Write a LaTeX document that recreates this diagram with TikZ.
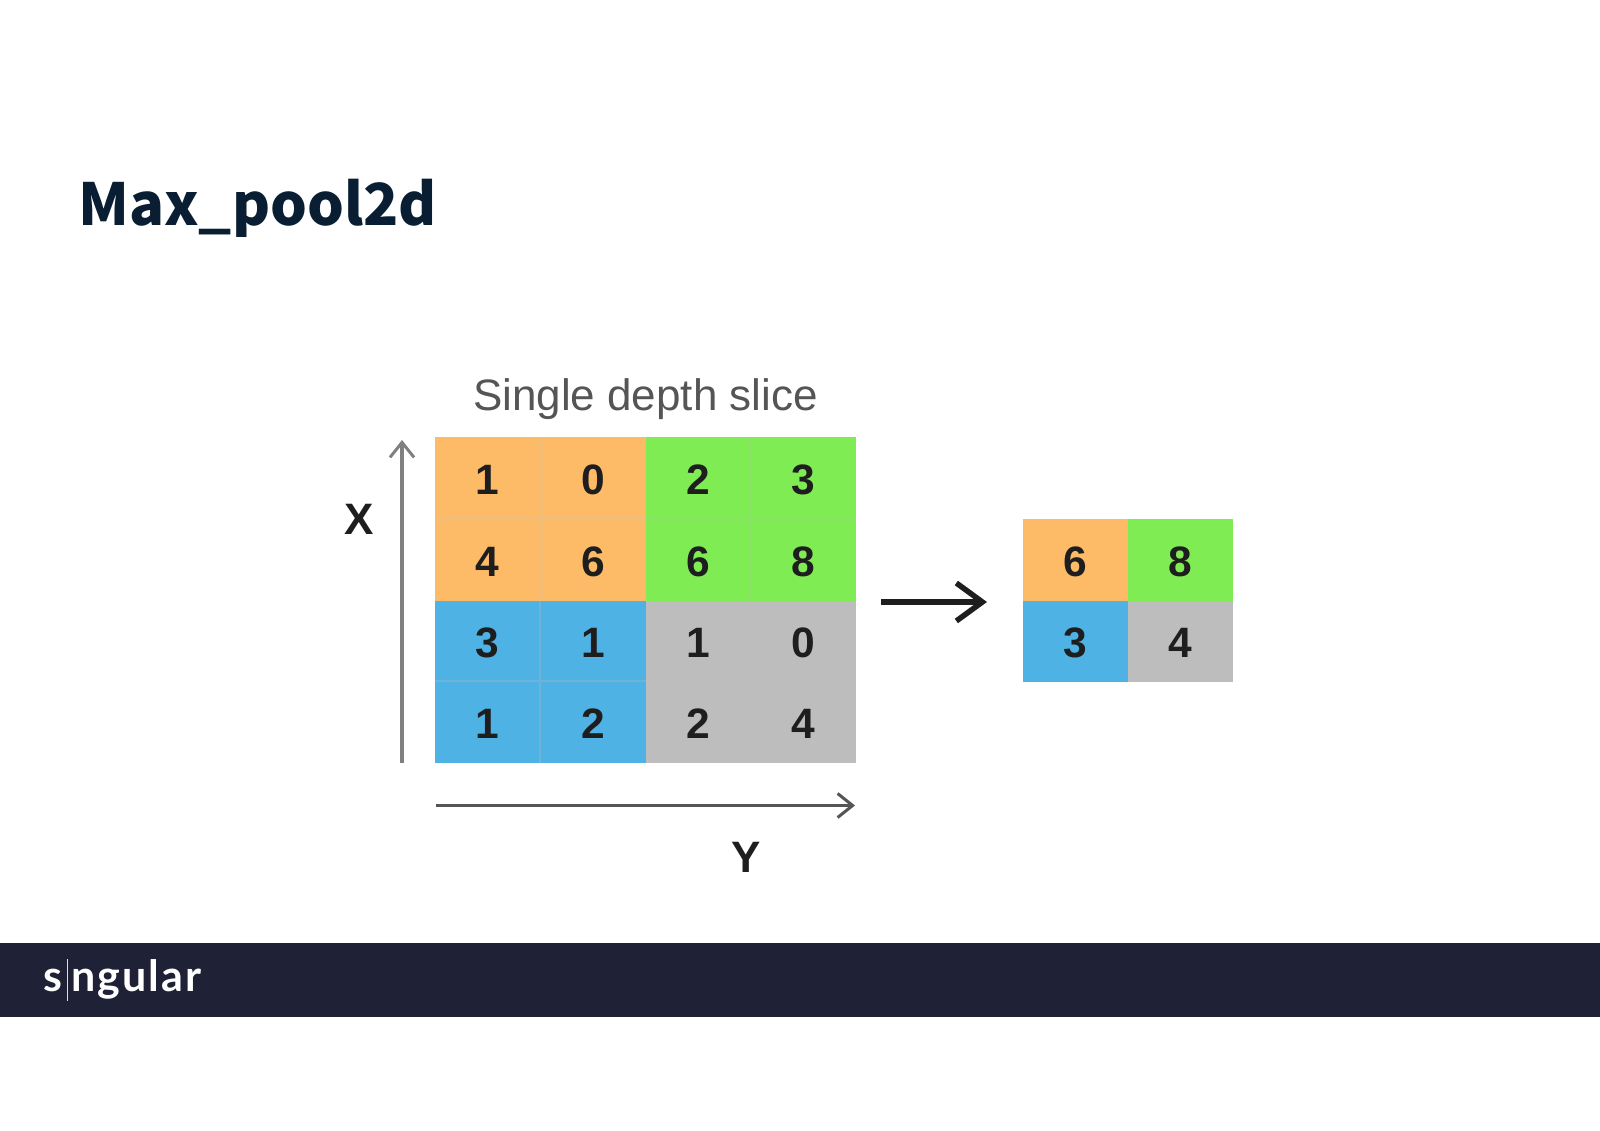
\documentclass[tikz,border=0pt]{standalone}
\usepackage{xcolor}
\usepackage{fontspec}
\usepackage{tikz}
\usetikzlibrary{calc,arrows.meta,positioning}
\setmainfont{Liberation Sans}
\newfontfamily\titlefont{Noto Sans CJK SC}
\newfontfamily\logofont{Lato}[LetterSpace=5]
\definecolor{poolOrange}{RGB}{253,187,103}
\definecolor{poolGreen}{RGB}{128,236,84}
\definecolor{poolBlue}{RGB}{79,178,228}
\definecolor{poolGray}{RGB}{189,189,189}
\definecolor{poolOrangeLine}{RGB}{235,190,130}
\definecolor{poolGreenLine}{RGB}{140,225,105}
\definecolor{poolBlueLine}{RGB}{110,180,215}
\definecolor{titleNavy}{RGB}{9,30,50}
\definecolor{bannerNavy}{RGB}{31,34,54}
\definecolor{sliceGray}{RGB}{85,85,85}
\definecolor{digitBlack}{RGB}{30,30,30}
\tikzset{
  cellbox/.style={inner sep=0pt,outer sep=0pt,minimum width=#1,text height=32pt,text depth=0pt,font=\fontsize{42.5}{42.5}\selectfont\bfseries,text=digitBlack},
  axislabel/.style={inner sep=0pt,font=\fontsize{44}{44}\selectfont\bfseries,text=digitBlack},
  logotext/.style={anchor=base west,inner sep=0pt,text=white,font=\logofont\fontsize{43}{43}\selectfont\bfseries},
}
\begin{document}
\begin{tikzpicture}[x=1pt,y=-1pt]
\useasboundingbox (0,0) rectangle (1600,1131);
% banner and title
\fill[bannerNavy] (0,943) rectangle (1600,1017);
\node[anchor=base west,inner sep=0pt,text=titleNavy,font=\titlefont\fontsize{58}{58}\selectfont\bfseries] (title) at (78,226) {Max\_pool2d};
\node[logotext] (logoS) at (43,991) {s};
\node[logotext] (logoRest) at (71,991) {ngular};
\draw[white!85!bannerNavy,line width=1pt] (67,959)--(67,1001);
% big grid
\foreach \name/\cx/\cy/\cw/\ch/\col/\val in {
  a/487.5/478/105/82/poolOrange/1, b/593/478/106/82/poolOrange/0, c/698/478/104/82/poolGreen/2, d/803/478/106/82/poolGreen/3,
  e/487.5/560/105/82/poolOrange/4, f/593/560/106/82/poolOrange/6, g/698/560/104/82/poolGreen/6, h/803/560/106/82/poolGreen/8,
  i/487.5/641/105/80/poolBlue/3, j/593/641/106/80/poolBlue/1, k/698/641/104/80/poolGray/1, l/803/641/106/80/poolGray/0,
  m/487.5/722/105/82/poolBlue/1, n/593/722/106/82/poolBlue/2, o/698/722/104/82/poolGray/2, p/803/722/106/82/poolGray/4}
  \node[cellbox=\cw,minimum height=\ch,fill=\col] (cell\name) at (\cx,\cy) {\val};
\draw[poolOrangeLine,line width=1.2pt] (540,437)--(540,601);
\draw[poolOrangeLine,line width=1.2pt] (435,519)--(646,519);
\draw[poolGreenLine,line width=1.2pt] (750,437)--(750,601);
\draw[poolGreenLine,line width=1.2pt] (646,519)--(856,519);
\draw[poolBlueLine,line width=1.2pt] (540,601)--(540,763);
\draw[poolBlueLine,line width=1.2pt] (435,681)--(646,681);
% small grid
\foreach \name/\cx/\cy/\cw/\ch/\col/\val in {
  q/1075/560/105/82/poolOrange/6, r/1180/560/105/82/poolGreen/8,
  s/1075/641.5/105/81/poolBlue/3, t/1180/641.5/105/81/poolGray/4}
  \node[cellbox=\cw,minimum height=\ch,fill=\col] (out\name) at (\cx,\cy) {\val};
% labels
\node[inner sep=0pt,text=sliceGray,font=\fontsize{44}{44}\selectfont] (slice) at (645.5,399) {Single depth slice};
\node[axislabel] (labelX) at (359,519) {X};
\node[axislabel] (labelY) at (746,857) {Y};
% arrows
\coordinate (xStart) at (402,763);
\coordinate (xEnd) at (402,440);
\coordinate (yStart) at (436,805.5);
\coordinate (yEnd) at (855,805.5);
\coordinate (poolStart) at (881,602);
\coordinate (poolEnd) at (987,602);
\draw[sliceGray!75,line width=4pt,-{Straight Barb[length=15pt,width=24pt,line width=3pt]}] (xStart)--(xEnd);
\draw[sliceGray,line width=3.4pt,-{Straight Barb[length=15pt,width=24pt,line width=3pt]}] (yStart)--(yEnd);
\draw[digitBlack,line width=5.5pt,-{Straight Barb[length=26pt,width=38pt,line width=5.5pt]}] (poolStart)--(poolEnd);
\end{tikzpicture}
\end{document}
